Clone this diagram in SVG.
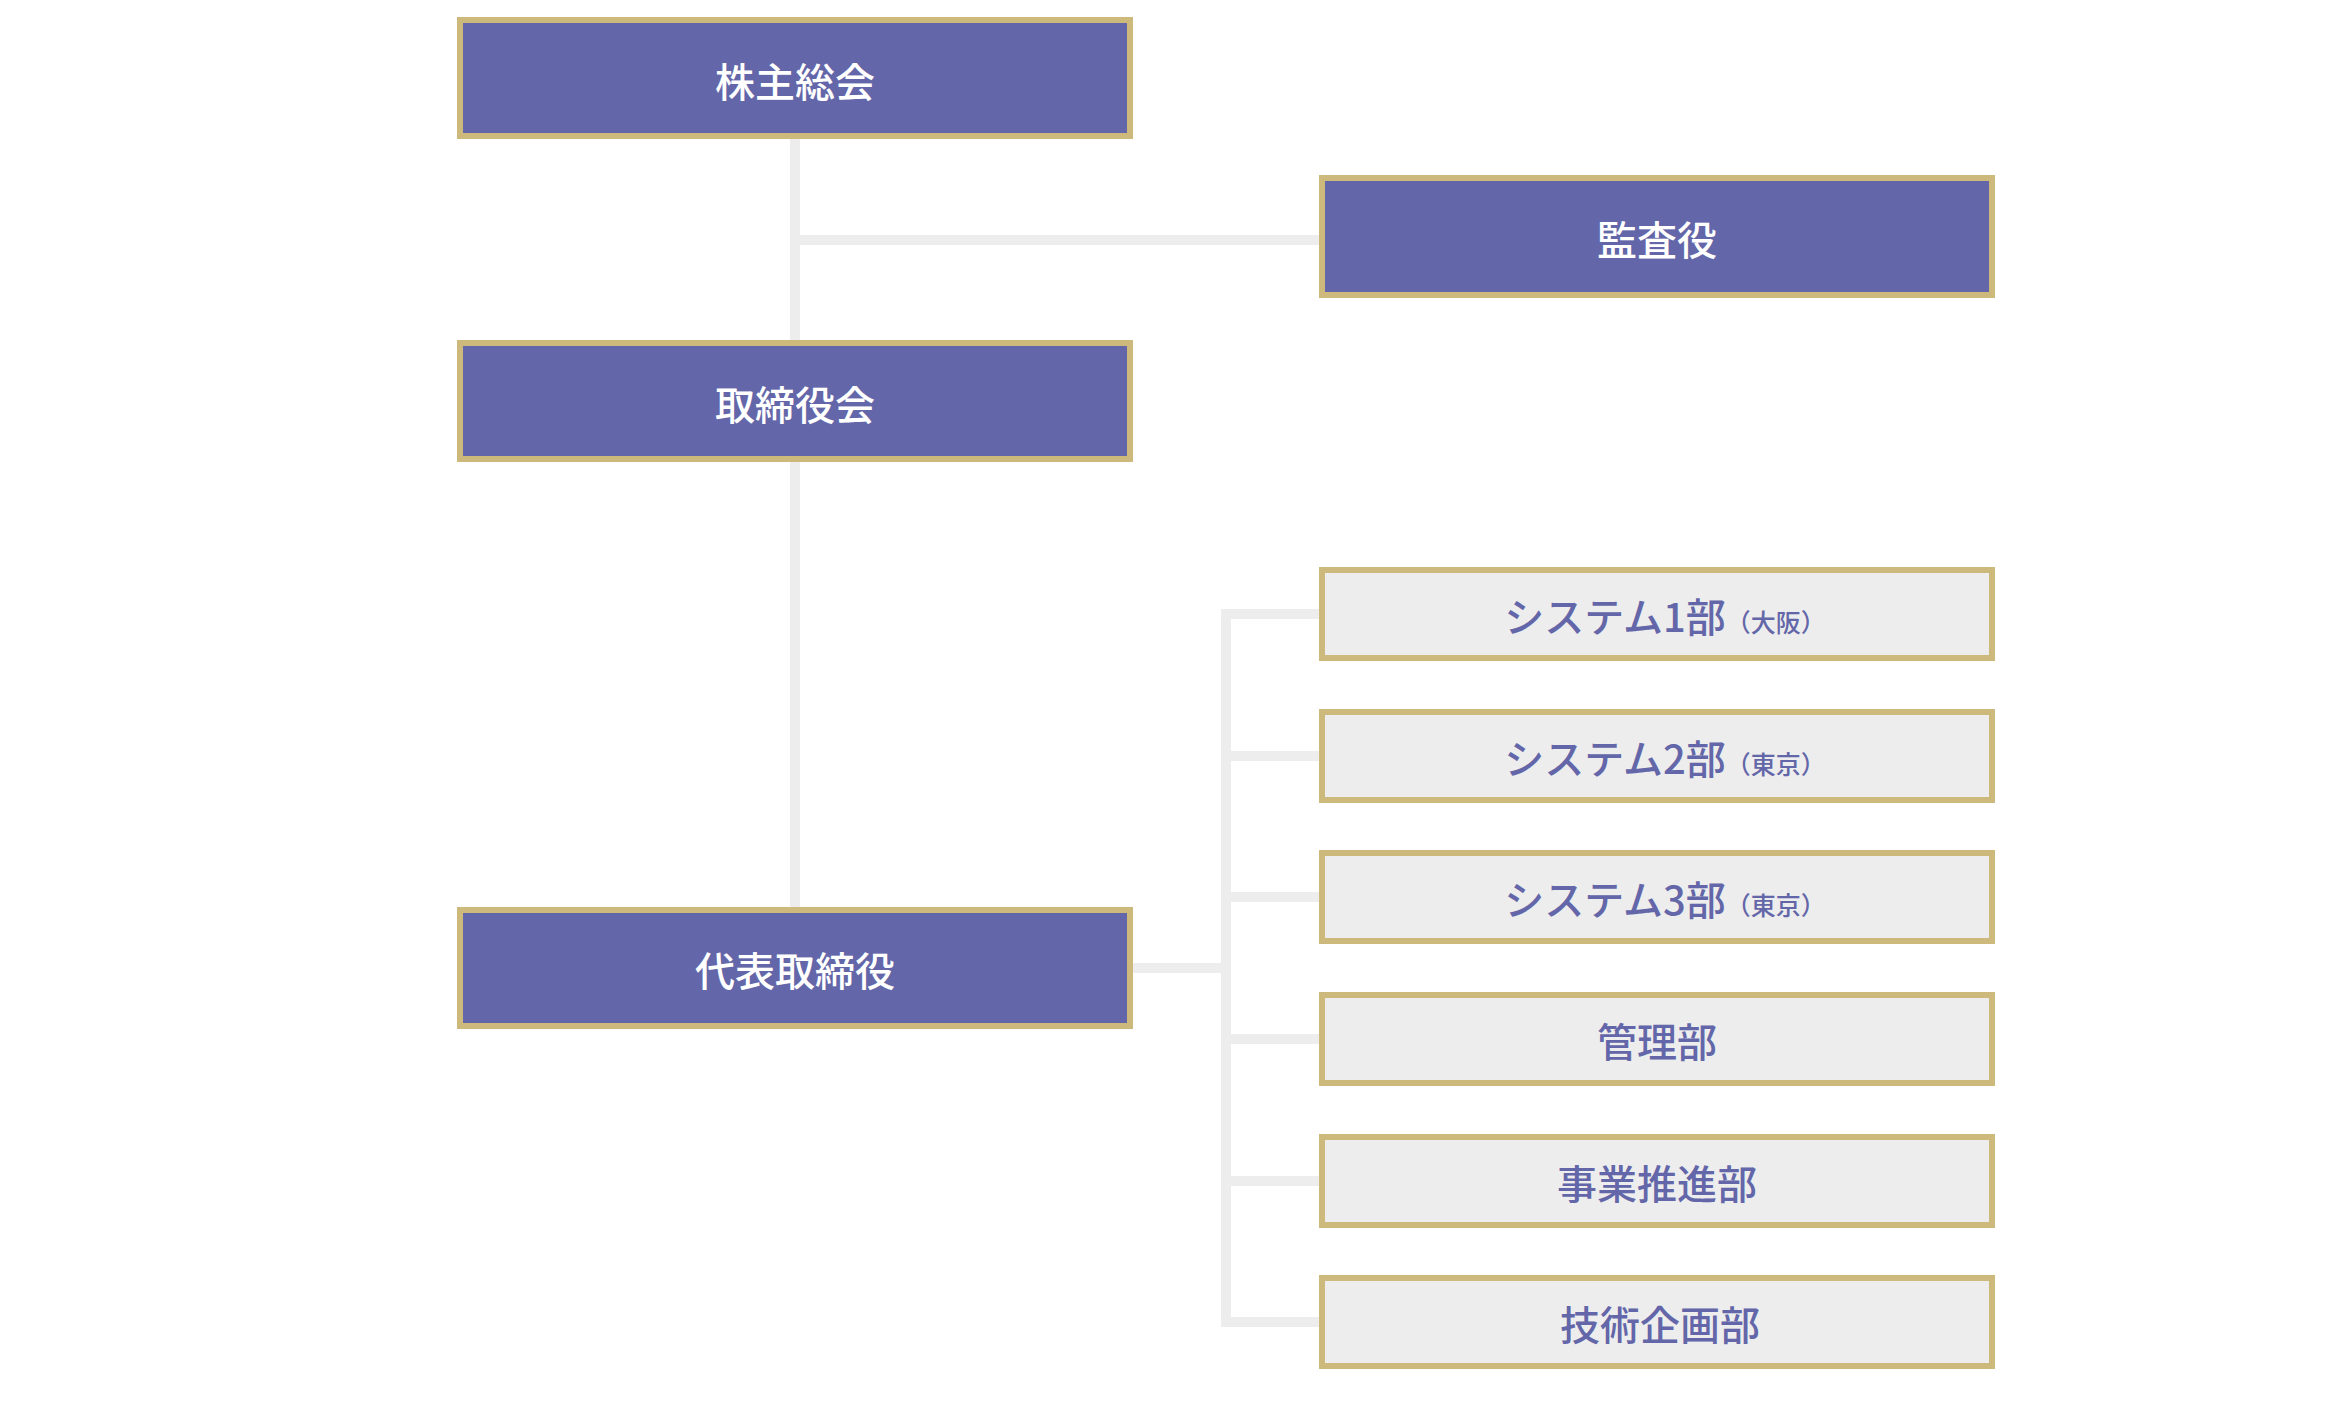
<svg xmlns="http://www.w3.org/2000/svg" width="2347" height="1416" viewBox="0 0 2347 1416">
<style>
.main rect{fill:#6366A8;stroke:#CDB97B;stroke-width:6}
.sub rect{fill:#EDEDED;stroke:#CDB97B;stroke-width:6}
text{font-family:"Noto Sans CJK JP","Noto Sans CJK SC",sans-serif;font-weight:500;text-anchor:middle;font-size:40px}
.main text{fill:#FFFFFF}
.sub text{fill:#6366A8}
.small{font-size:25px}
.conn{fill:none;stroke:#EDEDED;stroke-width:10;stroke-linejoin:miter}
</style>
<rect width="2347" height="1416" fill="#FFFFFF"/>
<g id="connectors" class="conn">
<path d="M795 139 V907"/>
<path d="M795 240 H1319"/>
<path d="M1133 968 H1226"/>
<path d="M1319 614 H1226 V1322 H1319"/>
<path d="M1226 756 H1319"/>
<path d="M1226 897 H1319"/>
<path d="M1226 1039 H1319"/>
<path d="M1226 1181 H1319"/>
</g>
<g id="node-kabunushi" class="main"><rect x="460" y="20" width="670" height="116"/><text x="795" y="97">株主総会</text></g>
<g id="node-kansayaku" class="main"><rect x="1322" y="178" width="670" height="117"/><text x="1657" y="255">監査役</text></g>
<g id="node-torishimariyakukai" class="main"><rect x="460" y="343" width="670" height="116"/><text x="795" y="420">取締役会</text></g>
<g id="node-daihyo" class="main"><rect x="460" y="910" width="670" height="116"/><text x="795" y="986">代表取締役</text></g>
<g id="node-sys1" class="sub"><rect x="1322" y="570" width="670" height="88"/><text x="1665" y="632">システム1部<tspan class="small">（大阪）</tspan></text></g>
<g id="node-sys2" class="sub"><rect x="1322" y="712" width="670" height="88"/><text x="1665" y="774">システム2部<tspan class="small">（東京）</tspan></text></g>
<g id="node-sys3" class="sub"><rect x="1322" y="853" width="670" height="88"/><text x="1665" y="915">システム3部<tspan class="small">（東京）</tspan></text></g>
<g id="node-kanri" class="sub"><rect x="1322" y="995" width="670" height="88"/><text x="1657" y="1057">管理部</text></g>
<g id="node-jigyo" class="sub"><rect x="1322" y="1137" width="670" height="88"/><text x="1657" y="1199">事業推進部</text></g>
<g id="node-gijutsu" class="sub"><rect x="1322" y="1278" width="670" height="88"/><text x="1660" y="1340">技術企画部</text></g>
</svg>
